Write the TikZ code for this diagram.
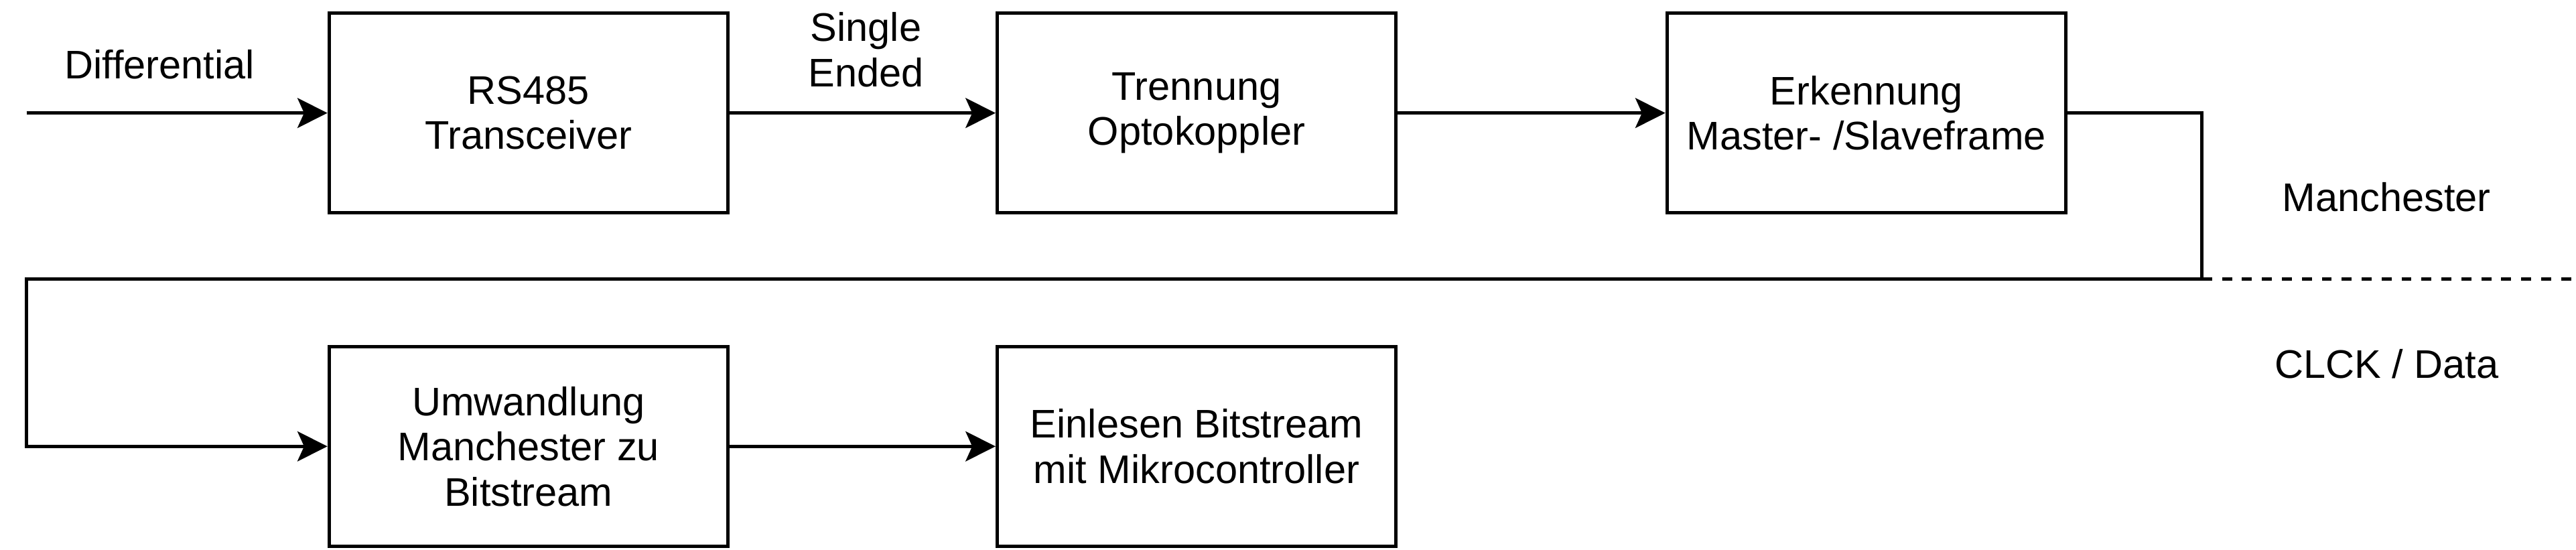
\documentclass[tikz,border=0pt]{standalone}
\usepackage{fontspec}
\setmainfont{Liberation Sans}
\usetikzlibrary{arrows.meta}

\tikzset{every picture/.style={line width=1pt}}

\begin{document}
\begin{tikzpicture}[x=1pt,y=1pt,yscale=-1,xscale=1,
    block/.style={draw, minimum width=120pt, minimum height=60pt, inner sep=0pt, align=center, font=\fontsize{12}{13.6}\selectfont},
    txt/.style={inner sep=0pt, align=center, font=\fontsize{12}{13.6}\selectfont},
    flow/.style={-{Stealth[length=9pt,width=9pt,inset=2pt]}}]
        \useasboundingbox (0,0) rectangle (775,165.3);

        % Blocks
        \node [block] (rs485) at (159,34) {RS485\\Transceiver};
        \node [block] (trennung) at (360,34) {Trennung\\Optokoppler};
        \node [block] (erkennung) at (561.5,34) {Erkennung\\Master- /Slaveframe};
        \node [block] (umwandlung) at (159,134.3) {Umwandlung\\Manchester zu\\Bitstream};
        \node [block] (einlesen) at (360,134.3) {Einlesen Bitstream\\mit Mikrocontroller};

        \coordinate (start) at (8,34);
        \coordinate (knick) at (662.5,84);
        \coordinate (links) at (8,84);
        \coordinate (ende) at (775,84);

        %Straight Lines
        \draw [flow] (start) -- (rs485);
        \draw [flow] (rs485) -- (trennung);
        \draw [flow] (trennung) -- (erkennung);
        \draw [flow] (erkennung.east) -| (knick) -- (links) |- (umwandlung.west);
        \draw [flow] (umwandlung) -- (einlesen);
        %Dashed Line
        \draw [dash pattern={on 3pt off 3pt}] (knick) -- (ende);

        % Text Node
        \node [txt] (differential) at (48,19.3) {Differential};
        % Text Node
        \node [txt] (singleended) at (260.5,15) {Single\\Ended};
        % Text Node
        \node [txt] (manchester) at (718,59.3) {Manchester};
        % Text Node
        \node [txt] (clckdata) at (718,109.4) {CLCK / Data};

\end{tikzpicture}
\end{document}
